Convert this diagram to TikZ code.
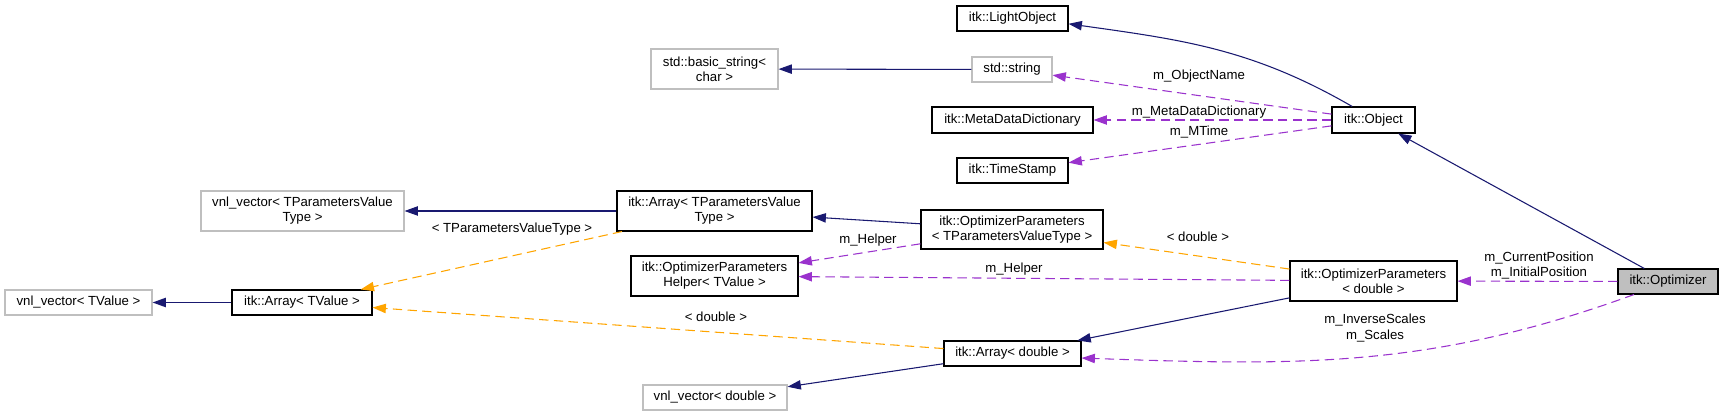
\documentclass[tikz,border=0pt]{standalone}
\usepackage{fontspec}
\setmainfont{Liberation Sans}
\usepackage{tikz}
\usetikzlibrary{arrows.meta}
\definecolor{doxNavy}{HTML}{191970}
\definecolor{doxPurple}{HTML}{9A32CD}
\definecolor{doxOrange}{HTML}{FFA500}
\definecolor{doxGrey}{HTML}{BFBFBF}
\tikzset{
  dox/box/.style={draw=black, line width=0.8pt, inner sep=0pt, align=center, font=\fontsize{9.9}{11.3}\selectfont},
  dox/class/.style={dox/box},
  dox/ext/.style={dox/box, draw=doxGrey},
  dox/cur/.style={dox/box, fill=doxGrey},
  dox/size/.style 2 args={minimum width=#1*0.75pt, minimum height=#2*0.75pt},
  dox/inh/.style={-{Triangle[length=10pt,width=7pt]}, draw=doxNavy, line width=0.8pt},
  dox/use/.style={-{Triangle[length=10pt,width=7pt]}, draw=doxPurple, line width=0.8pt, dash pattern=on 7pt off 4pt},
  dox/tmpl/.style={-{Triangle[length=10pt,width=7pt]}, draw=doxOrange, line width=0.8pt, dash pattern=on 7pt off 4pt},
  dox/lbl/.style={inner sep=0pt, align=center, font=\fontsize{9.9}{11.3}\selectfont}
}
\begin{document}
\begin{tikzpicture}[x=0.75pt, y=-0.75pt]
\useasboundingbox (0,0) rectangle (1724,416);
% classes
\node[dox/class, dox/size={111}{25}] (lightobj) at (1012.5,18.5) {itk::LightObject};
\node[dox/ext, dox/size={127}{40}] (basicstr) at (714.5,69) {std::basic\_string\textless\\char \textgreater};
\node[dox/ext, dox/size={80}{25}] (stdstr) at (1012,69.5) {std::string};
\node[dox/class, dox/size={161}{26}] (mdd) at (1012.5,120) {itk::MetaDataDictionary};
\node[dox/class, dox/size={111}{25}] (tstamp) at (1012.5,170.5) {itk::TimeStamp};
\node[dox/class, dox/size={83}{26}] (object) at (1373.5,120) {itk::Object};
\node[dox/ext, dox/size={203}{40}] (vnltpv) at (302.5,211) {vnl\_vector\textless\ TParametersValue\\Type \textgreater};
\node[dox/class, dox/size={195}{40}] (arrtpv) at (714.5,211) {itk::Array\textless\ TParametersValue\\Type \textgreater};
\node[dox/class, dox/size={182}{39}] (optptpv) at (1012,229.5) {itk::OptimizerParameters\\\textless\ TParametersValueType \textgreater};
\node[dox/class, dox/size={167}{40}] (helper) at (714.5,276) {itk::OptimizerParameters\\Helper\textless\ TValue \textgreater};
\node[dox/ext, dox/size={147}{25}] (vnltv) at (78.5,302.5) {vnl\_vector\textless\ TValue \textgreater};
\node[dox/class, dox/size={140}{25}] (arrtv) at (302,302.5) {itk::Array\textless\ TValue \textgreater};
\node[dox/class, dox/size={137}{25}] (arrdbl) at (1012.5,353.5) {itk::Array\textless\ double \textgreater};
\node[dox/ext, dox/size={144}{25}] (vnldbl) at (715,397.5) {vnl\_vector\textless\ double \textgreater};
\node[dox/class, dox/size={167}{40}] (optpdbl) at (1373.5,281) {itk::OptimizerParameters\\\textless\ double \textgreater};
\node[dox/cur, dox/size={100}{25}] (optimizer) at (1668,281.5) {itk::Optimizer};
% inheritance
\draw[dox/inh] ([xshift=-16pt]object.north) to[out=150,in=-8] ([yshift=-4pt]lightobj.east);
\draw[dox/inh] (optimizer) -- (object);
\draw[dox/inh] (stdstr) -- (basicstr);
\draw[dox/inh] (arrtpv) -- (vnltpv);
\draw[dox/inh] (optptpv) -- (arrtpv);
\draw[dox/inh] (arrtv) -- (vnltv);
\draw[dox/inh] (optpdbl) -- (arrdbl);
\draw[dox/inh] (arrdbl) -- (vnldbl);
% usage
\draw[dox/use] (object) -- (stdstr);
\draw[dox/use] (object) -- (mdd);
\draw[dox/use] (object) -- (tstamp);
\draw[dox/use] (optptpv) -- (helper);
\draw[dox/use] (optpdbl) -- (helper);
\draw[dox/use] (optimizer) -- (optpdbl);
\draw[dox/use] ([xshift=-25.5pt]optimizer.south) to[out=200,in=-2] ([yshift=-3.4pt]arrdbl.east);
% templates
\draw[dox/tmpl] (optpdbl) -- (optptpv);
\draw[dox/tmpl] (arrtpv) -- (arrtv);
\draw[dox/tmpl] (arrdbl) -- (arrtv);
% labels
\node[dox/lbl] (lObjName) at (1199,76) {m\_ObjectName};
\node[dox/lbl] (lMdd) at (1199,112) {m\_MetaDataDictionary};
\node[dox/lbl] (lMTime) at (1199,132) {m\_MTime};
\node[dox/lbl] (lHelperA) at (868,240) {m\_Helper};
\node[dox/lbl] (lHelperB) at (1014,269) {m\_Helper};
\node[dox/lbl] (lDblA) at (1198,237) {\textless\ double \textgreater};
\node[dox/lbl] (lTpv) at (512,229) {\textless\ TParametersValueType \textgreater};
\node[dox/lbl] (lDblB) at (716,317) {\textless\ double \textgreater};
\node[dox/lbl] (lPos) at (1539,265.5) {m\_CurrentPosition\\m\_InitialPosition};
\node[dox/lbl] (lScales) at (1375,328) {m\_InverseScales\\m\_Scales};
\end{tikzpicture}
\end{document}
